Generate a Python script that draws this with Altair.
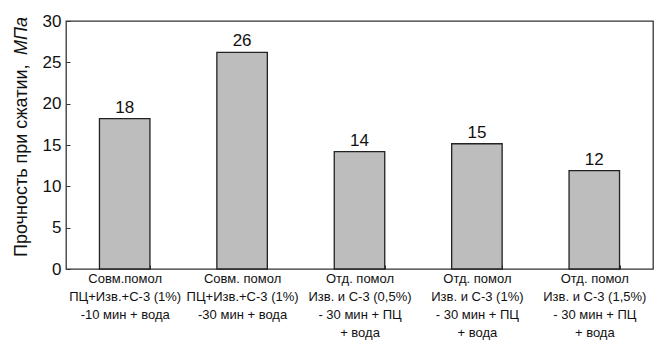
import altair as alt
import pandas as pd

categories = [
    "Совм.помол|ПЦ+Изв.+С-3 (1%)|-10 мин + вода",
    "Совм. помол|ПЦ+Изв.+С-3 (1%)|-30 мин + вода",
    "Отд. помол|Изв. и С-3 (0,5%)|- 30 мин + ПЦ|+ вода",
    "Отд. помол|Изв. и С-3 (1%)|- 30 мин + ПЦ|+ вода",
    "Отд. помол|Изв. и С-3 (1,5%)|- 30 мин + ПЦ|+ вода",
]
values = [18.2, 26.2, 14.2, 15.15, 11.9]
y_ticks = [0, 5, 10, 15, 20, 25, 30]
y_title_main = "Прочность при сжатии, "
y_title_unit = "МПа"

df = pd.DataFrame({"cat": categories, "val": values})

FONT = "Liberation Sans, Arial, Helvetica, sans-serif"
W, H = 587, 248

x_enc = alt.X(
    "cat:N",
    sort=None,
    title=None,
    scale=alt.Scale(paddingInner=0.57, paddingOuter=0.285),
    axis=alt.Axis(
        labelExpr="split(datum.label, '|')",
        labelAngle=0,
        labelFont=FONT,
        labelFontSize=13,
        labelColor="#111",
        labelLineHeight=18,
        labelBaseline="top",
        labelPadding=3,
        labelLimit=200,
        tickBand="extent",
        tickSize=4,
        tickColor="#333",
        tickWidth=1,
        offset=-4,
        domain=False,
    ),
)

y_enc = alt.Y(
    "val:Q",
    title=None,
    scale=alt.Scale(domain=[0, 30], nice=False),
    axis=alt.Axis(
        values=y_ticks,
        labelFont=FONT,
        labelFontSize=17,
        labelColor="#111",
        labelPadding=5,
        tickSize=4,
        tickColor="#333",
        tickWidth=1,
        offset=-4,
        domain=False,
        grid=False,
    ),
)

bars = alt.Chart(df).mark_bar(
    color="#bdbdbd", stroke="#222", strokeWidth=1.3
).encode(x=x_enc, y=y_enc)

labels = alt.Chart(df).mark_text(
    font=FONT, fontSize=17, color="#111",
    baseline="alphabetic", dy=-6
).encode(
    x=alt.X("cat:N", sort=None),
    y=alt.Y("val:Q"),
    text=alt.Text("val:Q", format=".0f"),
)

title_df = pd.DataFrame({"t": [y_title_main]})
unit_df = pd.DataFrame({"t": [y_title_unit]})

title_main = alt.Chart(title_df).mark_text(
    font=FONT, fontSize=18, color="#111",
    angle=270, align="left", baseline="middle"
).encode(text="t:N", x=alt.value(-44), y=alt.value(236))

title_unit = alt.Chart(unit_df).mark_text(
    font=FONT, fontSize=18, color="#111", fontStyle="italic",
    angle=270, align="right", baseline="middle"
).encode(text="t:N", x=alt.value(-44), y=alt.value(-4))

chart = (
    alt.layer(bars, labels, title_main, title_unit)
    .properties(
        width=W, height=H,
        autosize=alt.AutoSizeParams(type="none"),
        padding={"left": 66, "top": 21, "right": 6, "bottom": 72},
        background="white",
    )
    .configure_view(stroke="#333", strokeWidth=1.3)
)

chart.save("out.html", embed_options={"renderer": "svg", "actions": False})
